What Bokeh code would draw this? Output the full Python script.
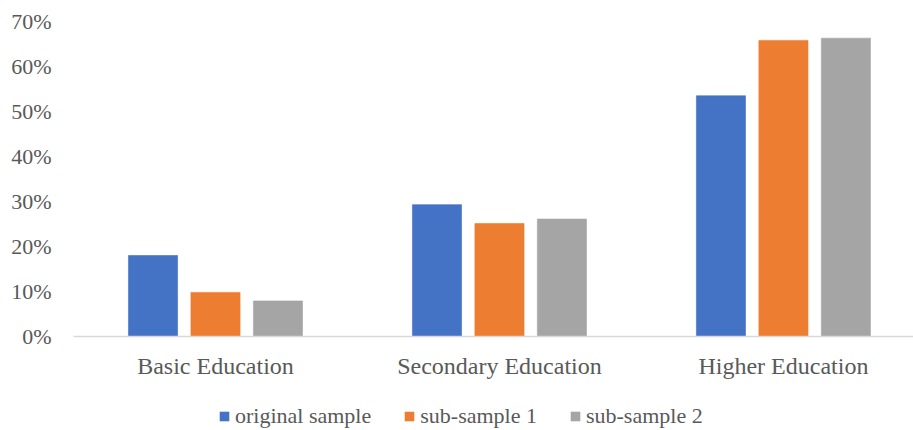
from bokeh.plotting import figure
from bokeh.layouts import column
from bokeh.models import (Range1d, FixedTicker, NumeralTickFormatter, Legend,
                          LegendItem, ColumnDataSource)
from bokeh.embed import file_html
from bokeh.resources import INLINE

# Share of respondents by education level, per sample
categories = ["Basic Education", "Secondary Education", "Higher Education"]
original_sample = [0.180, 0.293, 0.535]
sub_sample_1 = [0.098, 0.251, 0.658]
sub_sample_2 = [0.079, 0.261, 0.663]
series_names = ["original sample", "sub-sample 1", "sub-sample 2"]
y_ticks = [0.0, 0.1, 0.2, 0.3, 0.4, 0.5, 0.6, 0.7]

colors = ["#4472C4", "#ED7D31", "#A5A5A5"]
offsets = [-0.22, 0.0, 0.22]
bar_width = 0.173
font = "Liberation Serif"
text_color = "#595959"

p = figure(width=913, height=394, output_backend="svg", toolbar_location=None,
           x_range=Range1d(-0.5, 2.458), y_range=Range1d(0, 0.7),
           min_border_left=73, min_border_right=0, min_border_top=21,
           min_border_bottom=58)
p.outline_line_color = None
p.xgrid.grid_line_color = None
p.ygrid.grid_line_color = None

for vals, col, off in zip([original_sample, sub_sample_1, sub_sample_2],
                          colors, offsets):
    src = ColumnDataSource(dict(x=[i + off for i in range(len(categories))],
                                top=vals))
    p.vbar(x="x", top="top", width=bar_width, source=src,
           fill_color=col, line_color=col, line_alpha=0.6)

# y axis: percentages, no line or ticks
yax = p.yaxis[0]
yax.ticker = FixedTicker(ticks=y_ticks)
yax.formatter = NumeralTickFormatter(format="0%")
yax.axis_line_color = None
yax.major_tick_line_color = None
yax.minor_tick_line_color = None
yax.major_label_text_font = font
yax.major_label_text_font_size = "22px"
yax.major_label_text_color = text_color
yax.major_label_standoff = 16

# x axis: category names under a light baseline
xax = p.xaxis[0]
xax.ticker = FixedTicker(ticks=[0, 1, 2])
xax.major_label_overrides = {i: c for i, c in enumerate(categories)}
xax.axis_line_color = "#D9D9D9"
xax.axis_line_width = 1.5
xax.major_tick_line_color = None
xax.minor_tick_line_color = None
xax.major_label_text_font = font
xax.major_label_text_font_size = "24px"
xax.major_label_text_color = text_color
xax.major_label_standoff = 10

# legend strip under the chart; its swatch glyphs sit outside the visible range
lg = figure(width=913, height=36, output_backend="svg", toolbar_location=None,
            x_range=Range1d(0, 1), y_range=Range1d(0, 1),
            min_border=0, min_border_left=0, min_border_right=0,
            min_border_top=0, min_border_bottom=0)
lg.axis.visible = False
lg.grid.visible = False
lg.outline_line_color = None

items = []
for name, col in zip(series_names, colors):
    r = lg.vbar(x=[-10], bottom=[-6], top=[-5], width=0.1, fill_color=col,
                line_color=None)
    items.append(LegendItem(label=name, renderers=[r]))

legend = Legend(items=items, orientation="horizontal", location=(145, 1),
                label_text_font=font, label_text_font_size="22px",
                label_text_color=text_color, glyph_width=12, glyph_height=12,
                label_standoff=5, spacing=32, padding=0, margin=0,
                border_line_color=None, background_fill_alpha=0)
lg.add_layout(legend, "center")

layout = column(p, lg, spacing=0)
open("out.html", "w").write(file_html(layout, INLINE))
